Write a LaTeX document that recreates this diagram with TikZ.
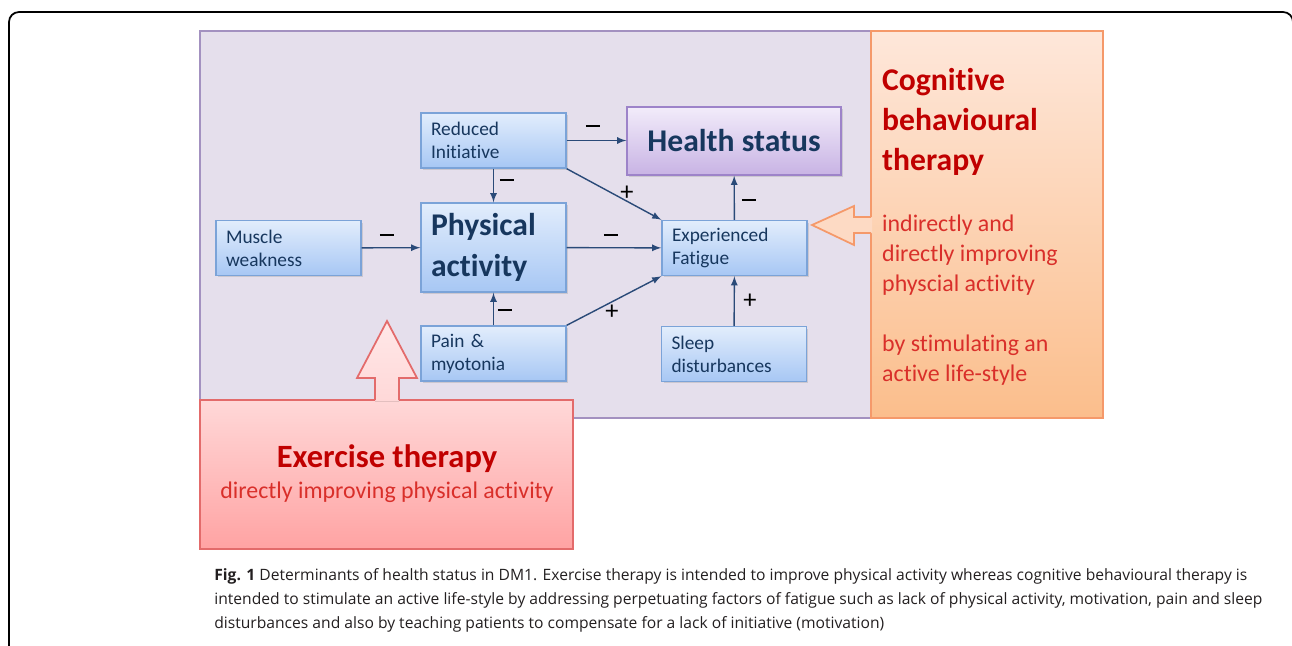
\documentclass[tikz,border=0pt]{standalone}
\usepackage{fontspec}
\setmainfont{Carlito}[Ligatures=CommonOff]
\newfontfamily\capfont{Open Sans}
\usetikzlibrary{shadows}
\definecolor{boxtext}{HTML}{17375E}
\definecolor{arrowcol}{HTML}{2A4A78}
\definecolor{boxtop}{HTML}{E2EDFC}
\definecolor{boxbottom}{HTML}{A7C7F4}
\definecolor{boxline}{HTML}{7BA3D8}
\definecolor{bgfill}{HTML}{E5DFEC}
\definecolor{bgline}{HTML}{A391C0}
\definecolor{healthtop}{HTML}{F2ECFA}
\definecolor{healthbottom}{HTML}{C8B3E4}
\definecolor{healthline}{HTML}{9D83C9}
\definecolor{cbttop}{HTML}{FEE7DA}
\definecolor{cbtbottom}{HTML}{FBBE8C}
\definecolor{cbtline}{HTML}{F5996A}
\definecolor{cbtarrow}{HTML}{FDDAC4}
\definecolor{extop}{HTML}{FFD8D8}
\definecolor{exbottom}{HTML}{FFA3A3}
\definecolor{exline}{HTML}{E36B6B}
\definecolor{darkred}{HTML}{C00000}
\definecolor{lightred}{HTML}{D92F2A}
\definecolor{captext}{HTML}{231F20}
\newcommand\minussign{\rule[2.5pt]{8pt}{1.1pt}}
\begin{document}
\begin{tikzpicture}[x=0.02cm,y=-0.02cm,
  factor/.style={draw=boxline,line width=0.8pt,top color=boxtop,bottom color=boxbottom,
    text=boxtext,minimum width=2.9cm,minimum height=1.1cm,text width=2.5cm,inner xsep=0.2cm,
    align=left,font=\fontsize{11}{13}\selectfont,
    drop shadow={shadow xshift=0.04cm,shadow yshift=-0.04cm,opacity=0.25}},
  arr/.style={-latex,draw=arrowcol,line width=0.8pt},
  sign/.style={font=\fontsize{15}{15}\selectfont,inner sep=0}]
\useasboundingbox (0,0) rectangle (1292,646);

\draw [line width=1pt,rounded corners=0.2cm] (9,670) -- (9,12) -- (1293,12) -- (1293,670);
\draw [draw=bgline,fill=bgfill,line width=1pt] (200,31) rectangle (1103,418);
\draw [draw=cbtline,top color=cbttop,bottom color=cbtbottom,line width=1pt] (871,31) rectangle (1103,418);
\draw [draw=exline,top color=extop,bottom color=exbottom,line width=1pt] (200,400) rectangle (573,549);

% therapy arrows
\fill [cbtarrow] (872,217) -- (854,217) -- (854,206) -- (812,225) -- (854,245) -- (854,233) -- (872,233) -- cycle;
\draw [cbtline,line width=1pt] (871,217) -- (854,217) -- (854,206) -- (812,225) -- (854,245) -- (854,233) -- (871,233);
\fill [top color=extop!60!white,bottom color=extop] (375,401) -- (375,378) -- (357,378) -- (387,321) -- (417,378) -- (399,378) -- (399,401) -- cycle;
\draw [exline,line width=1pt] (375,400) -- (375,378) -- (357,378) -- (387,321) -- (417,378) -- (399,378) -- (399,400);

\node [factor] (init) at (493.5,140.5) {Reduced\\Initiative};
\node [factor] (muscle) at (288.5,248) {Muscle\\weakness};
\node [factor,minimum height=1.78cm,font=\bfseries\fontsize{18}{23.2}\selectfont] (phys) at (493.5,247.5) {Physical\\activity};
\node [factor] (pain) at (493.5,353.5) {Pain \&\\myotonia};
\node [factor] (fatigue) at (734.5,248) {Experienced\\Fatigue};
\node [factor] (sleep) at (734,354) {Sleep\\disturbances};
\node [factor,draw=healthline,top color=healthtop,bottom color=healthbottom,minimum width=4.28cm,
  minimum height=1.36cm,text width=,align=center,font=\bfseries\fontsize{18}{22}\selectfont] (health) at (734,141) {Health status};

\draw [arr] (init.east) -- (init.east -| health.west);
\draw [arr] (init) -- (phys);
\draw [arr] (init.south east) -- (fatigue.north west);
\draw [arr] (muscle) -- (phys);
\draw [arr] (phys) -- (fatigue);
\draw [arr] (pain) -- (phys);
\draw [arr] (pain.north east) -- (fatigue.south west);
\draw [arr] (fatigue) -- (health);
\draw [arr] (sleep) -- (fatigue);

\node [sign] (s1) at (593,128) {\minussign};
\node [sign] (s2) at (507,182) {\minussign};
\node [sign] (s3) at (627,193) {+};
\node [sign] (s4) at (387,237) {\minussign};
\node [sign] (s5) at (611,237) {\minussign};
\node [sign] (s6) at (505,312) {\minussign};
\node [sign] (s7) at (612,312) {+};
\node [sign] (s8) at (749,202) {\minussign};
\node [sign] (s9) at (750,301) {+};

\node [anchor=west,align=left,text=darkred,font=\bfseries\fontsize{18}{22.7}\selectfont] (cbt) at (876,122) {Cognitive\\behavioural\\therapy};
\node [anchor=west,align=left,text=lightred,font=\fontsize{13.6}{17}\selectfont] (cbtwhy) at (876,255) {indirectly and\\directly improving\\physcial activity};
\node [anchor=west,align=left,text=lightred,font=\fontsize{13.6}{17}\selectfont] (cbthow) at (876,360) {by stimulating an\\active life-style};

\node [text=darkred,font=\bfseries\fontsize{18.5}{22}\selectfont] (ex) at (387,459) {Exercise therapy};
\node [text=lightred,font=\fontsize{13.6}{17}\selectfont] (exwhy) at (387,492) {directly improving physical activity};

\node [anchor=north west,align=left,text=captext,inner sep=0,font=\capfont\fontsize{8.9}{13.6}\selectfont] (caption) at (214,568) {\textbf{Fig. 1} Determinants of health status in DM1. Exercise therapy is intended to improve physical activity whereas cognitive behavioural therapy is\\intended to stimulate an active life-style by addressing perpetuating factors of fatigue such as lack of physical activity, motivation, pain and sleep\\disturbances and also by teaching patients to compensate for a lack of initiative (motivation)};
\end{tikzpicture}
\end{document}
